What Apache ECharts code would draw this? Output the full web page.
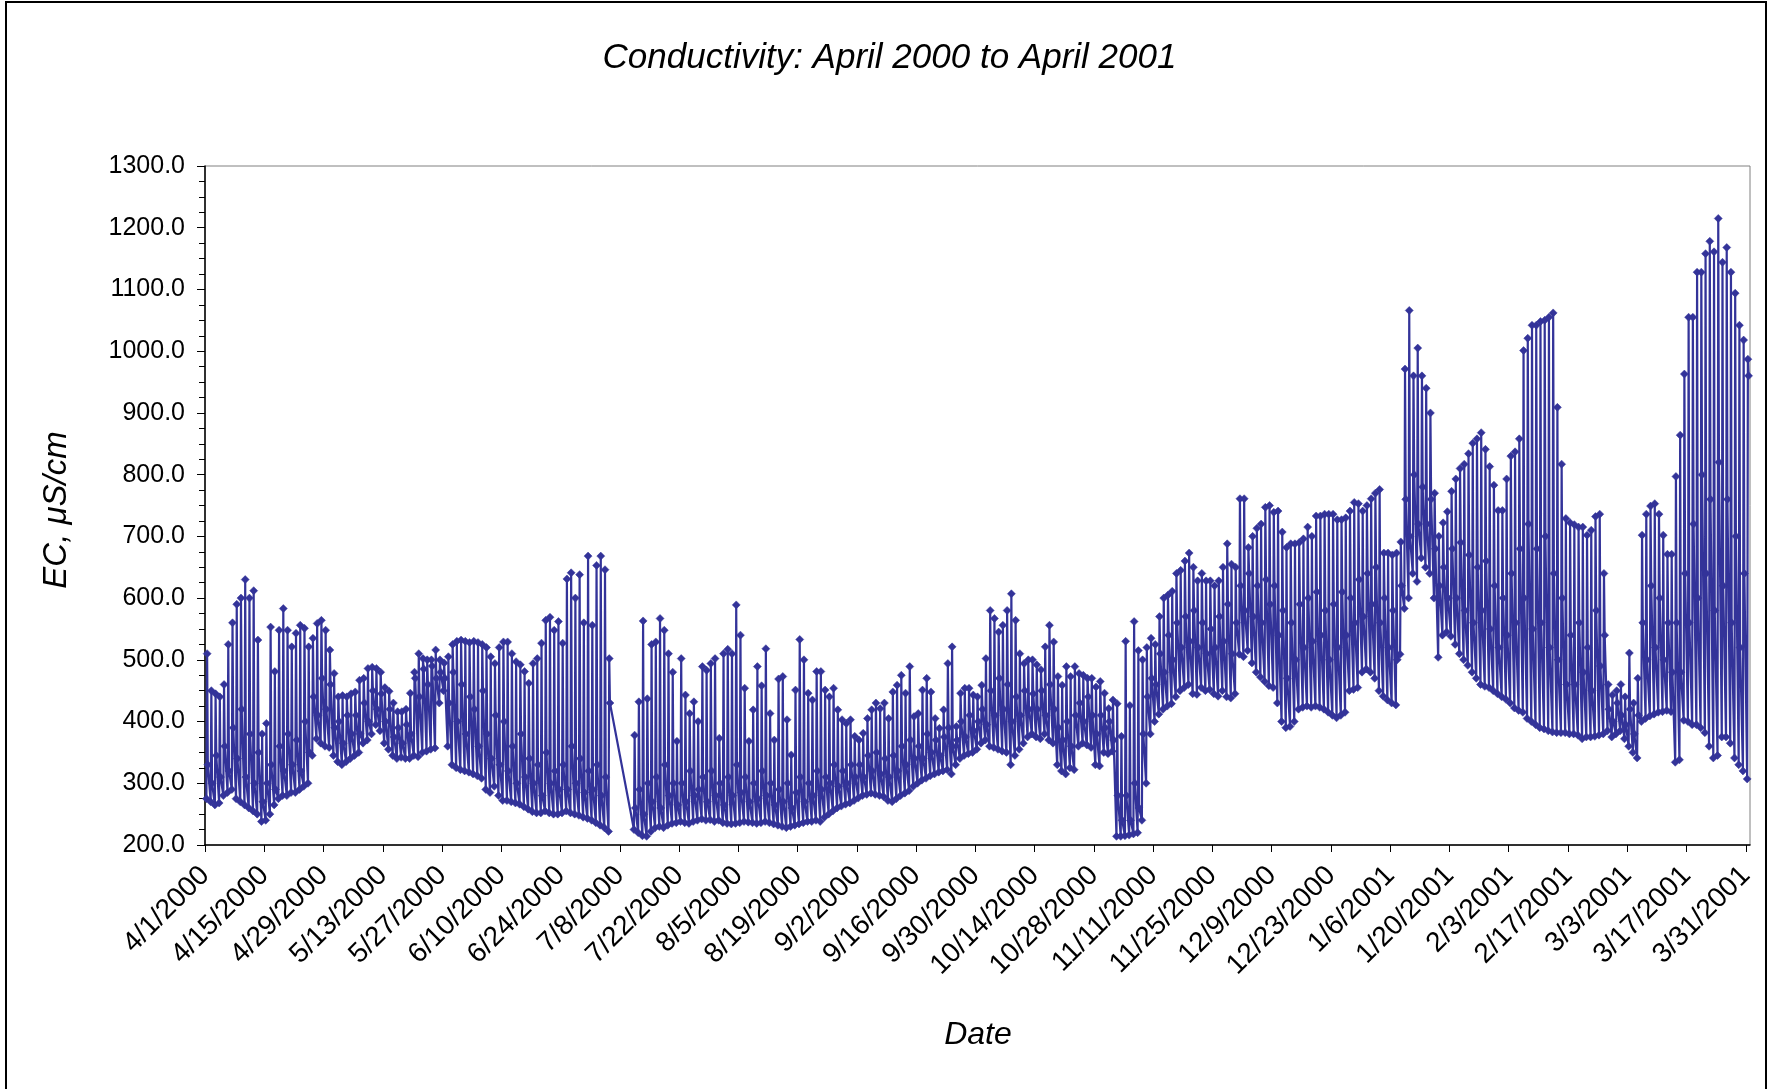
<!DOCTYPE html>
<html>
<head>
<meta charset="utf-8">
<title>Conductivity: April 2000 to April 2001</title>
<script src="https://cdn.jsdelivr.net/npm/echarts@6/dist/echarts.min.js"></script>
<style>
  html, body { margin: 0; padding: 0; background: #fff; }
  #chart { width: 1779px; height: 1089px; }
</style>
</head>
<body>
<div id="chart"></div>
<script>
// Record period
const startDate = '4/1/2000';
const endDate = '4/1/2001';

// Hour of day of the three daily readings: before the pulse, peak, after the pulse
const readingHours = [8, 12, 16];

// Date axis tick labels (every 14 days)
const dateTicks = [
  '4/1/2000', '4/15/2000', '4/29/2000', '5/13/2000', '5/27/2000', '6/10/2000',
  '6/24/2000', '7/8/2000', '7/22/2000', '8/5/2000', '8/19/2000', '9/2/2000',
  '9/16/2000', '9/30/2000', '10/14/2000', '10/28/2000', '11/11/2000', '11/25/2000',
  '12/9/2000', '12/23/2000', '1/6/2001', '1/20/2001', '2/3/2001', '2/17/2001',
  '3/3/2001', '3/17/2001', '3/31/2001'
];

// EC axis range, µS/cm
const yMin = 200;
const yMax = 1300;
const yStep = 100;

// Daily low EC (before the pulse), µS/cm, one value per day from 4/1/2000 (null = no record)
const dayLow = [
  275, 270, 265, 268, 280, 285, 290,
  275, 270, 265, 260, 255, 250, 238,
  240, 250, 265, 275, 280, 280, 285,
  285, 290, 295, 300, 345, 372, 365,
  360, 358, 345, 335, 330, 335, 340,
  345, 350, 365, 370, 380, 395, 385,
  365, 355, 345, 340, 342, 340, 340,
  345, 343, 350, 352, 355, 357, 430,
  450, 360, 330, 325, 322, 320, 318,
  315, 312, 308, 290, 285, 295, 280,
  272, 272, 270, 268, 266, 262, 258,
  254, 252, 252, 255, 252, 250, 250,
  252, 255, 252, 250, 248, 245, 243,
  240, 236, 232, 228, 222, null, null,
  null, null, null, 225, 220, 215, 214,
  222, 228, 230, 228, 232, 235, 236,
  238, 236, 235, 238, 240, 242, 240,
  241, 238, 240, 236, 235, 234, 235,
  236, 238, 237, 236, 235, 236, 238,
  236, 234, 232, 230, 228, 230, 232,
  234, 236, 238, 238, 240, 238, 245,
  250, 255, 260, 263, 266, 268, 272,
  276, 280, 282, 284, 282, 280, 278,
  272, 270, 275, 280, 284, 288, 295,
  300, 305, 308, 312, 315, 318, 320,
  322, 315, 330, 340, 345, 348, 350,
  355, 365, 370, 360, 358, 355, 352,
  350, 330, 345, 355, 365, 375, 380,
  375, 372, 380, 370, 365, 330, 320,
  315, 325, 322, 360, 365, 362, 358,
  330, 328, 350, 348, 352, 214, 214,
  215, 216, 218, 220, 240, 300, 380,
  400, 412, 420, 425, 429, 440, 450,
  455, 460, 445, 444, 455, 450, 452,
  445, 441, 450, 440, 438, 445, 509,
  505, 515, 495, 480, 472, 465, 458,
  455, 430, 400, 390, 392, 400, 420,
  423, 425, 423, 425, 423, 420, 415,
  410, 406, 410, 415, 450, 452, 455,
  480, 485, 480, 470, 450, 441, 435,
  430, 427, 509, 583, 600, 640, 627,
  665, 650, 640, 600, 504, 540, 545,
  538, 525, 510, 500, 491, 480, 470,
  460, 457, 455, 450, 445, 440, 436,
  430, 422, 418, 415, 405, 400, 395,
  390, 388, 385, 383, 382, 382, 382,
  380, 380, 378, 372, 375, 375, 376,
  378, 380, 385, 375, 380, 385, 372,
  360, 350, 341, 400, 405, 409, 412,
  415, 416, 418, 416, 334, 338, 402,
  400, 395, 395, 390, 382, 360, 341,
  345, 375, 375, 365, 341, 330, 320,
  307
];

// Daily peak EC, µS/cm, one value per day from 4/1/2000 (null = no record)
const dayHigh = [
  510, 450, 445, 440, 460, 525, 560,
  590, 600, 630, 600, 612, 532, 380,
  397, 553, 481, 548, 583, 548, 521,
  543, 556, 551, 521, 535, 559, 564,
  548, 516, 478, 440, 442, 440, 445,
  448, 467, 470, 486, 488, 486, 480,
  455, 449, 430, 416, 416, 420, 446,
  480, 510, 502, 500, 500, 516, 500,
  495, 505, 525, 530, 532, 530, 528,
  530, 528, 525, 520, 505, 494, 520,
  529, 529, 510, 497, 492, 481, 462,
  494, 502, 527, 564, 569, 548, 562,
  527, 631, 641, 600, 638, 560, 668,
  556, 653, 668, 646, 502, null, null,
  null, null, null, 378, 432, 563, 437,
  525, 529, 567, 548, 510, 480, 368,
  502, 443, 413, 432, 400, 489, 483,
  494, 502, 373, 510, 517, 510, 589,
  540, 454, 368, 419, 489, 458, 518,
  413, 370, 469, 473, 403, 346, 451,
  533, 500, 446, 435, 481, 481, 451,
  440, 454, 419, 403, 397, 403, 376,
  370, 381, 405, 419, 430, 421, 430,
  405, 448, 459, 475, 446, 489, 408,
  413, 451, 470, 448, 405, 389, 419,
  494, 521, 392, 446, 454, 454, 443,
  440, 459, 502, 580, 567, 545, 556,
  580, 607, 564, 510, 494, 500, 500,
  492, 484, 521, 556, 529, 473, 459,
  489, 473, 489, 478, 475, 470, 470,
  456, 465, 446, 421, 435, 429, 376,
  530, 426, 562, 515, 500, 520, 535,
  525, 570, 600, 605, 611, 640, 645,
  660, 673, 650, 628, 640, 628, 628,
  620, 628, 650, 688, 655, 650, 761,
  761, 682, 700, 713, 720, 747, 750,
  739, 741, 707, 682, 688, 688, 690,
  696, 715, 700, 733, 733, 736, 736,
  736, 727, 727, 730, 741, 755, 753,
  741, 750, 761, 770, 776, 673, 673,
  670, 673, 691, 971, 1066, 960, 1005,
  960, 940, 900, 770, 700, 722, 740,
  773, 793, 810, 817, 834, 851, 858,
  868, 841, 813, 783, 742, 742, 793,
  830, 837, 858, 1001, 1021, 1042, 1042,
  1048, 1050, 1055, 1062, 909, 817, 729,
  722, 719, 715, 715, 702, 710, 732,
  736, 640, 460, 443, 450, 460, 440,
  511, 430, 470, 702, 736, 749, 753,
  736, 702, 671, 671, 797, 864, 963,
  1055, 1055, 1128, 1128, 1158, 1178, 1161,
  1215, 1144, 1168, 1128, 1094, 1042, 1018,
  987
];

// EC after the daily pulse, µS/cm, one value per day from 4/1/2000 (null = no record)
const dayPost = [
  330, 300, 345, 310, 360, 320, 390,
  340, 420, 310, 380, 300, 350, 270,
  300, 330, 290, 360, 320, 380, 330,
  370, 320, 400, 350, 440, 410, 470,
  420, 460, 390, 400, 365, 410, 380,
  410, 380, 430, 400, 450, 420, 445,
  400, 420, 375, 390, 365, 395, 380,
  470, 440, 485, 460, 490, 470, 480,
  470, 430, 480, 400, 460, 380, 440,
  420, 360, 450, 380, 340, 410, 330,
  400, 320, 360, 300, 380, 310, 340,
  300, 330, 280, 350, 300, 320, 290,
  330, 290, 360, 300, 340, 285, 320,
  290, 330, 280, 310, 430, null, null,
  null, null, null, 260, 290, 250, 300,
  270, 310, 260, 330, 280, 300, 265,
  300, 270, 320, 280, 290, 310, 270,
  320, 280, 300, 265, 310, 280, 330,
  285, 310, 270, 300, 275, 320, 280,
  300, 265, 290, 270, 300, 260, 285,
  310, 270, 300, 280, 320, 290, 310,
  300, 330, 295, 320, 300, 330, 310,
  330, 310, 345, 320, 350, 315, 340,
  310, 345, 320, 360, 330, 370, 340,
  360, 340, 380, 350, 370, 345, 375,
  390, 360, 370, 400, 375, 410, 385,
  400, 420, 395, 450, 410, 470, 420,
  460, 400, 440, 410, 450, 420, 445,
  420, 450, 410, 460, 420, 390, 370,
  400, 360, 410, 430, 400, 440, 410,
  380, 410, 390, 400, 370, 280, 240,
  280, 240, 300, 260, 380, 440, 470,
  460, 510, 480, 540, 500, 560, 520,
  570, 530, 580, 520, 560, 510, 550,
  520, 570, 530, 590, 510, 560, 620,
  580, 640, 570, 620, 560, 630, 590,
  620, 540, 580, 470, 560, 500, 590,
  520, 600, 530, 610, 540, 580, 500,
  590, 520, 610, 540, 600, 560, 630,
  570, 640, 590, 650, 560, 600, 520,
  580, 500, 620, 760, 700, 800, 720,
  780, 720, 760, 680, 620, 650, 600,
  680, 600, 690, 580, 670, 560, 650,
  580, 660, 550, 620, 520, 600, 540,
  640, 560, 680, 600, 720, 550, 680,
  560, 700, 520, 640, 500, 600, 460,
  540, 460, 560, 480, 520, 450, 580,
  490, 540, 420, 400, 430, 410, 395,
  420, 380, 410, 560, 500, 620, 520,
  600, 500, 560, 480, 560, 480, 640,
  560, 720, 600, 800, 640, 760, 580,
  820, 620, 760, 560, 700, 520, 640,
  960
];

// ---- build the plotted series (x = days since the start date) ----
const DAY_MS = 86400000;
function parseMDY(s) {
  const [m, d, y] = s.split('/').map(Number);
  return Date.UTC(y, m - 1, d);
}
const t0 = parseMDY(startDate);
const endDay = (parseMDY(endDate) - t0) / DAY_MS;

const points = [];
for (let d = 0; d < dayHigh.length; d++) {
  const readings = [dayLow[d], dayHigh[d], dayPost[d]];
  readings.forEach((v, k) => {
    if (v != null) points.push([d + readingHours[k] / 24, v]);
  });
}

const tickPos = dateTicks.map(s => (parseMDY(s) - t0) / DAY_MS);
const labelAt = new Map(tickPos.map((p, i) => [p, dateTicks[i]]));

const FONT = '"Liberation Sans", Arial, sans-serif';

const chart = echarts.init(document.getElementById('chart'), null, { renderer: 'canvas' });

chart.setOption({
  animation: false,
  backgroundColor: '#ffffff',
  title: {
    text: 'Conductivity: April 2000 to April 2001',
    left: 'center',
    top: 36,
    textStyle: {
      fontFamily: FONT,
      fontStyle: 'italic',
      fontWeight: 'normal',
      fontSize: 35,
      color: '#000'
    }
  },
  grid: {
    left: 205,
    right: 29,
    top: 166,
    bottom: 244,
    show: true,
    borderColor: '#808080',
    borderWidth: 1,
    backgroundColor: 'transparent',
    containLabel: false,
    outerBoundsMode: 'none'
  },
  xAxis: {
    type: 'value',
    min: 0,
    max: endDay,
    axisLine: { show: true, onZero: false, lineStyle: { color: '#000', width: 1.5 } },
    axisTick: {
      show: true,
      inside: false,
      length: 7,
      customValues: tickPos,
      lineStyle: { color: '#000', width: 1 }
    },
    axisLabel: {
      customValues: tickPos,
      rotate: 45,
      margin: 26,
      fontSize: 28,
      fontFamily: FONT,
      color: '#000',
      hideOverlap: false,
      formatter: v => labelAt.get(v) ?? ''
    },
    splitLine: { show: false },
    minorTick: { show: false }
  },
  yAxis: {
    type: 'value',
    min: yMin,
    max: yMax,
    interval: yStep,
    axisLine: { show: true, onZero: false, lineStyle: { color: '#000', width: 1.5 } },
    axisTick: { show: true, inside: false, length: 8, lineStyle: { color: '#000', width: 1 } },
    minorTick: { show: true, splitNumber: 4, length: 6, lineStyle: { color: '#000', width: 1 } },
    axisLabel: {
      margin: 20,
      fontSize: 25,
      fontFamily: FONT,
      color: '#000',
      formatter: v => v.toFixed(1)
    },
    splitLine: { show: false },
    minorSplitLine: { show: false }
  },
  graphic: [
    {
      type: 'text',
      x: 57,
      y: 510,
      rotation: Math.PI / 2,
      silent: true,
      style: {
        text: 'EC, μS/cm',
        font: 'italic 33px ' + FONT,
        fill: '#000',
        align: 'center',
        verticalAlign: 'middle',
        textAlign: 'center',
        textVerticalAlign: 'middle'
      }
    },
    {
      type: 'text',
      x: 978,
      y: 1035,
      silent: true,
      style: {
        text: 'Date',
        font: 'italic 32px ' + FONT,
        fill: '#000',
        align: 'center',
        verticalAlign: 'middle',
        textAlign: 'center',
        textVerticalAlign: 'middle'
      }
    },
    {
      type: 'rect',
      silent: true,
      z: 100,
      shape: { x: 6, y: 2, width: 1760, height: 1200 },
      style: { fill: 'none', stroke: '#000', lineWidth: 2 }
    }
  ],
  series: [
    {
      type: 'line',
      data: points,
      symbol: 'diamond',
      symbolSize: 8,
      showSymbol: true,
      showAllSymbol: true,
      silent: true,
      clip: true,
      lineStyle: { color: '#333399', width: 2.2 },
      itemStyle: { color: '#333399', borderColor: '#333399', borderWidth: 0.5 },
      emphasis: { disabled: true }
    }
  ]
});
</script>
</body>
</html>
